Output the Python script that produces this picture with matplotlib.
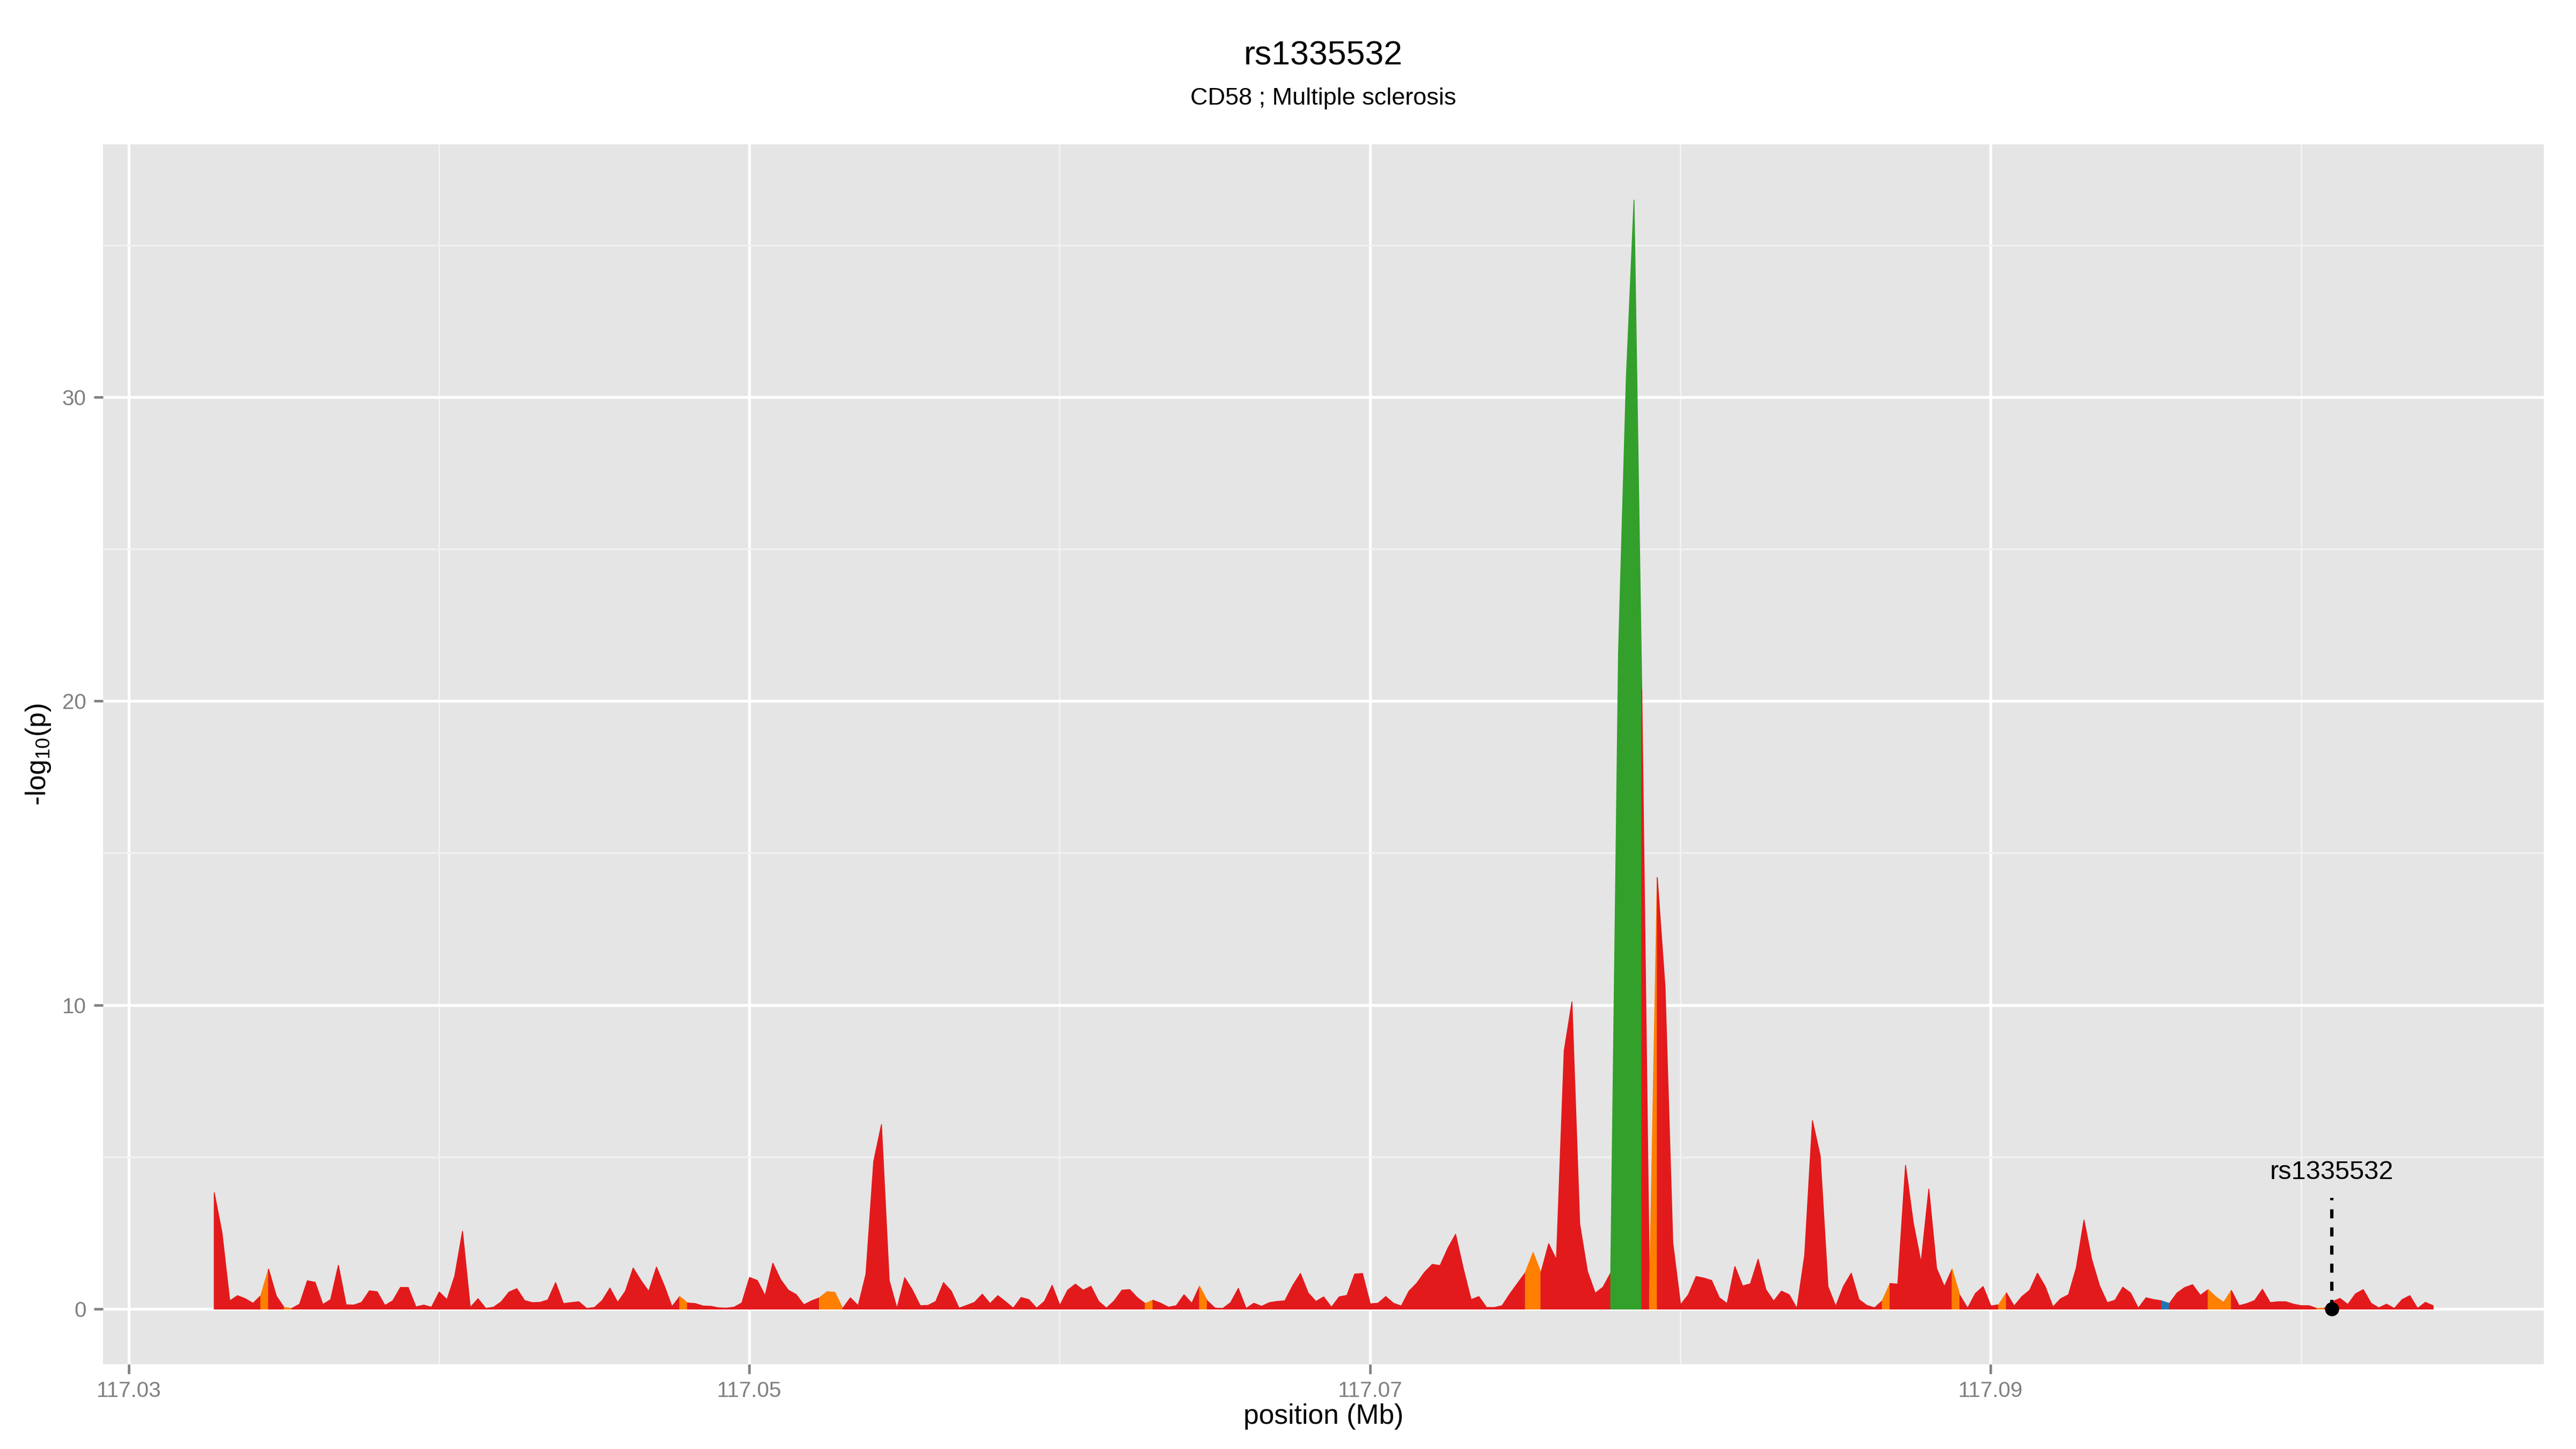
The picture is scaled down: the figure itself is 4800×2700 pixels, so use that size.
import numpy as np
import matplotlib
matplotlib.use('Agg')
import matplotlib.pyplot as plt
from matplotlib.ticker import FixedLocator

plt.rcParams['font.family'] = ['Liberation Sans', 'DejaVu Sans']
plt.rcParams['mathtext.fontset'] = 'custom'
plt.rcParams['mathtext.rm'] = 'Liberation Sans'
plt.rcParams['mathtext.it'] = 'Liberation Sans:italic'

# ---------------- data ----------------
title = 'rs1335532'
subtitle = 'CD58 ; Multiple sclerosis'
x_label = 'position (Mb)'
y_label = r'-log$_{\mathregular{10}}$(p)'

lead_snp = 'rs1335532'
lead_snp_pos_mb = 117.1010
lead_snp_logp = 0.0
lead_label_y = 4.27
lead_line_top = 3.65

# SNPs lie on a regular 250 bp grid
pos_start_mb = 117.03275
pos_step_mb = 0.00025

logp = [
    3.83, 2.51, 0.27, 0.44, 0.34, 0.19, 0.44, 1.31, 0.43, 0.05,
    0.02, 0.16, 0.93, 0.88, 0.15, 0.31, 1.44, 0.14, 0.13, 0.22,
    0.60, 0.57, 0.12, 0.27, 0.71, 0.71, 0.07, 0.13, 0.06, 0.56,
    0.31, 1.09, 2.56, 0.05, 0.34, 0.02, 0.06, 0.24, 0.56, 0.67,
    0.28, 0.21, 0.22, 0.30, 0.87, 0.18, 0.21, 0.24, 0.02, 0.05,
    0.28, 0.69, 0.22, 0.59, 1.35, 0.94, 0.58, 1.38, 0.77, 0.08,
    0.41, 0.20, 0.18, 0.10, 0.09, 0.04, 0.03, 0.06, 0.20, 1.04,
    0.94, 0.44, 1.51, 0.97, 0.62, 0.48, 0.14, 0.27, 0.37, 0.57,
    0.55, 0.02, 0.37, 0.11, 1.15, 4.86, 6.07, 0.94, 0.02, 1.03,
    0.62, 0.11, 0.12, 0.25, 0.87, 0.59, 0.03, 0.12, 0.22, 0.49,
    0.18, 0.44, 0.24, 0.03, 0.38, 0.31, 0.03, 0.25, 0.78, 0.12,
    0.62, 0.82, 0.62, 0.75, 0.25, 0.03, 0.27, 0.62, 0.64, 0.37,
    0.18, 0.29, 0.19, 0.06, 0.11, 0.47, 0.19, 0.75, 0.27, 0.03,
    0.02, 0.21, 0.68, 0.02, 0.19, 0.09, 0.21, 0.25, 0.27, 0.77,
    1.17, 0.53, 0.25, 0.40, 0.06, 0.40, 0.45, 1.15, 1.17, 0.17,
    0.19, 0.41, 0.19, 0.10, 0.59, 0.85, 1.21, 1.47, 1.43, 2.00,
    2.46, 1.33, 0.31, 0.41, 0.05, 0.05, 0.11, 0.50, 0.85, 1.20,
    1.86, 1.19, 2.15, 1.62, 8.50, 10.11, 2.80, 1.24, 0.52, 0.72,
    1.19, 21.6, 30.6, 36.5, 20.4, 0.57, 14.2, 10.6, 2.18, 0.14,
    0.47, 1.07, 1.02, 0.94, 0.37, 0.18, 1.40, 0.76, 0.83, 1.64,
    0.64, 0.26, 0.59, 0.47, 0.02, 1.78, 6.20, 5.04, 0.74, 0.09,
    0.75, 1.18, 0.31, 0.12, 0.04, 0.27, 0.84, 0.82, 4.73, 2.83,
    1.53, 3.95, 1.34, 0.74, 1.31, 0.45, 0.03, 0.51, 0.74, 0.10,
    0.14, 0.53, 0.10, 0.41, 0.62, 1.18, 0.74, 0.07, 0.34, 0.47,
    1.35, 2.93, 1.63, 0.77, 0.21, 0.29, 0.72, 0.53, 0.03, 0.37,
    0.31, 0.27, 0.18, 0.53, 0.71, 0.80, 0.45, 0.64, 0.40, 0.22,
    0.61, 0.11, 0.18, 0.28, 0.65, 0.21, 0.24, 0.24, 0.16, 0.11,
    0.11, 0.02, 0.03, 0.24, 0.35, 0.15, 0.50, 0.64, 0.19, 0.04,
    0.16, 0.02, 0.31, 0.44, 0.02, 0.22, 0.11,
]

# LD class of each SNP (index into logp); all others are 'low'
ld_mid_idx = [6, 9, 60, 78, 79, 80, 120, 127, 169, 170, 185, 215, 224,
              230, 257, 258, 259, 271]
ld_high_idx = [180, 181, 182, 183]
ld_other_idx = [251]

ld_colors = {'low': '#E31A1C', 'mid': '#FF7F00', 'high': '#33A02C',
             'other': '#1F78B4'}

x_major = [117.03, 117.05, 117.07, 117.09]
x_major_labels = ['117.03', '117.05', '117.07', '117.09']
x_minor = [117.04, 117.06, 117.08, 117.10]
y_major = [0, 10, 20, 30]
y_minor = [5, 15, 25, 35]

# ---------------- build ----------------
y = np.asarray(logp, dtype=float)
n = len(y)
x = pos_start_mb + pos_step_mb * np.arange(n)
ld_class = ['low'] * n
for i in ld_mid_idx:
    ld_class[i] = 'mid'
for i in ld_high_idx:
    ld_class[i] = 'high'
for i in ld_other_idx:
    ld_class[i] = 'other'

fig = plt.figure(figsize=(16, 9), dpi=300)
ax = fig.add_axes([192 / 4800, 1 - 2542 / 2700,
                   (4740 - 192) / 4800, (2542 - 269) / 2700])
ax.set_facecolor('#E5E5E5')
for s in ax.spines.values():
    s.set_visible(False)

# area, segment i -> i+1 coloured by the class of SNP i; consecutive runs merged
i = 0
while i < n - 1:
    c = ld_class[i]
    j = i
    while j + 1 < n - 1 and ld_class[j + 1] == c:
        j += 1
    sl = slice(i, j + 2)
    ax.fill_between(x[sl], 0, y[sl], facecolor=ld_colors[c],
                    edgecolor=ld_colors[c], linewidth=0.4, zorder=2)
    i = j + 1

# lead SNP marker
ax.plot([lead_snp_pos_mb, lead_snp_pos_mb], [lead_snp_logp, lead_line_top],
        color='black', lw=1.5, linestyle=(0, (2.7, 2.7)), zorder=3,
        solid_capstyle='butt', dash_capstyle='butt')
ax.plot([lead_snp_pos_mb], [lead_snp_logp], 'o', color='black',
        markersize=5.3, zorder=4)
ax.text(lead_snp_pos_mb, lead_label_y, lead_snp, ha='center', va='baseline',
        fontsize=11.7, color='black', zorder=5)

# limits (ggplot-style 5% expansion)
xr = x[-1] - x[0]
ax.set_xlim(x[0] - 0.05 * xr, x[-1] + 0.05 * xr)
ymax = y.max()
ax.set_ylim(-0.05 * ymax, ymax * 1.05)

ax.xaxis.set_major_locator(FixedLocator(x_major))
ax.set_xticklabels(x_major_labels)
ax.xaxis.set_minor_locator(FixedLocator(x_minor))
ax.yaxis.set_major_locator(FixedLocator(y_major))
ax.yaxis.set_minor_locator(FixedLocator(y_minor))
ax.set_yticklabels([str(v) for v in y_major])

ax.set_axisbelow(True)
ax.grid(which='major', color='white', linewidth=1.3, zorder=0)
ax.grid(which='minor', color='#F2F2F2', linewidth=0.7, zorder=0)

ax.tick_params(which='major', length=4.2, width=1.1, color='#7F7F7F',
               labelcolor='#7F7F7F', labelsize=9.7, pad=3.3)
ax.tick_params(which='minor', length=0)

ax.set_xlabel(x_label, fontsize=12.4, color='black')
ax.xaxis.set_label_coords(0.5, -(2640 - 2542) / (2542 - 269))
ax.xaxis.label.set_va('center')
ax.set_ylabel(y_label, fontsize=12.4, color='black')
ax.yaxis.set_label_coords(-(192 - 72) / (4740 - 192), 0.5)
ax.yaxis.label.set_va('center')

cx = (192 + 4740) / 2 / 4800
fig.text(cx, 1 - 104 / 2700, title, ha='center', va='center', fontsize=15)
fig.text(cx, 1 - 184 / 2700, subtitle, ha='center', va='center', fontsize=10.8)

fig.savefig('out.png', dpi=300, facecolor='white')
